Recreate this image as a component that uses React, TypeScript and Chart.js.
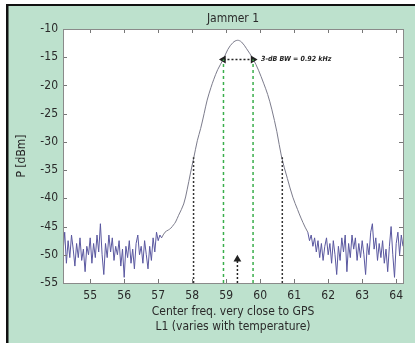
import React, { useEffect, useRef } from 'react';
import { Chart, registerables } from 'chart.js';

Chart.register(...registerables);

const FONT = "'DejaVu Sans Condensed', 'Liberation Sans Narrow', 'DejaVu Sans', sans-serif";

const chartTitle = 'Jammer 1';
const yTitle = 'P [dBm]';
const xTitle = ['Center freq. very close to GPS', 'L1 (varies with temperature)'];
const xTicks = [55, 56, 57, 58, 59, 60, 61, 62, 63, 64];
const yTicks = [-55, -50, -45, -40, -35, -30, -25, -20, -15, -10];

const noiseStep = 0.05;
const leftNoiseStart = 54.2;
const leftNoise = [
  -49.5, -46.0, -51.5, -47.5, -50.5, -46.5, -49.0, -52.0, -48.0, -50.5,
  -47.0, -51.0, -49.0, -53.0, -48.5, -50.0, -47.0, -51.5, -48.0, -50.5,
  -46.5, -49.5, -44.5, -50.0, -53.5, -48.0, -50.5, -46.5, -49.5, -47.0,
  -51.0, -48.5, -50.0, -47.5, -52.0, -49.0, -54.0, -48.5, -50.5, -47.5,
  -51.5, -49.0, -52.5, -48.0, -46.5, -50.0, -48.5, -51.5, -47.5, -50.0,
  -52.5, -48.5, -51.0, -47.0, -49.5, -46.0, -47.5, -46.5, -47.0,
];
const lobeFreqs = [
  57.1, 57.2, 57.3, 57.37, 57.45, 57.51, 57.6, 57.75, 57.85, 57.95, 58.04, 58.15,
  58.25, 58.35, 58.44, 58.55, 58.63, 58.75, 58.92, 59.05, 59.2, 59.33, 59.45, 59.6,
  59.79, 59.95, 60.1, 60.22, 60.34, 60.49, 60.63, 60.8, 60.96, 61.1, 61.2, 61.32, 61.4,
];
const lobePower = [
  -47.0, -46.0, -45.6, -45.3, -44.7, -44.2, -43.0, -41.0, -38.5, -35.5, -33.0, -29.8,
  -27.6, -25.0, -22.6, -20.4, -19.0, -17.2, -15.3, -13.6, -12.4, -12.0, -12.3, -13.5,
  -15.3, -17.3, -19.6, -21.6, -24.2, -28.2, -32.7, -36.5, -39.8, -42.0, -43.5, -45.1, -46.0,
];
const rightNoiseStart = 61.4;
const rightNoise = [
  -46.0, -47.5, -46.5, -48.5, -47.0, -49.5, -47.5, -50.5, -48.0, -51.0,
  -48.5, -47.0, -50.0, -48.0, -51.5, -47.5, -50.0, -53.5, -48.5, -51.0,
  -47.0, -49.5, -46.5, -53.0, -48.0, -50.5, -46.5, -49.0, -47.0, -51.0,
  -48.0, -50.5, -47.5, -50.0, -53.5, -48.0, -50.0, -46.0, -44.5, -49.0,
  -47.0, -51.0, -48.0, -50.5, -47.5, -51.5, -49.0, -53.0, -48.5, -45.0,
  -50.0, -54.0, -48.0, -46.0, -50.0, -46.5, -48.5,
];

const bwEdges = [58.92, 59.79];
const bwLevel = -15.4;
const bwLabel = '3-dB BW = 0.92 kHz';
const nullEdges = [58.04, 60.65];
const nullLevel = -32.7;
const centerFreq = 59.33;
const centerArrowTop = -50.8;
const axisMin = -55;

const BG_GREEN = '#bde1cd';
const NOISE_COLOR = '#5a58a0';
const LOBE_COLOR = '#7c7c8c';
const GREEN_DASH = '#3aae4c';

function noisePoints(start: number, vals: number[]) {
  return vals.map((v, i) => ({ x: +(start + i * noiseStep).toFixed(3), y: v }));
}

const framePlugin = {
  id: 'frame',
  beforeDraw(chart: any) {
    const { ctx, width, height, chartArea } = chart;
    ctx.save();
    ctx.fillStyle = '#ffffff';
    ctx.fillRect(0, 0, width, height);
    ctx.fillStyle = BG_GREEN;
    ctx.fillRect(7, 5, width - 7, height - 5);
    ctx.fillStyle = '#111';
    ctx.fillRect(6, 4, width - 6, 2);
    ctx.fillRect(6, 4, 2.5, height - 4);
    ctx.fillStyle = '#ffffff';
    ctx.fillRect(chartArea.left, chartArea.top, chartArea.right - chartArea.left, chartArea.bottom - chartArea.top);
    ctx.fillStyle = '#2a2a2a';
    ctx.font = '12px ' + FONT;
    ctx.textAlign = 'center';
    ctx.textBaseline = 'middle';
    ctx.fillText(chartTitle, (chartArea.left + chartArea.right) / 2, 19);
    ctx.restore();
  },
  afterDraw(chart: any) {
    const { ctx, chartArea, scales } = chart;
    const { left, right, top, bottom } = chartArea;
    ctx.save();
    ctx.strokeStyle = '#777';
    ctx.lineWidth = 1;
    ctx.beginPath();
    for (const t of xTicks) {
      const px = Math.round(scales.x.getPixelForValue(t)) + 0.5;
      ctx.moveTo(px, bottom);
      ctx.lineTo(px, bottom - 4);
      ctx.moveTo(px, top);
      ctx.lineTo(px, top + 4);
    }
    for (const t of yTicks) {
      const py = Math.round(scales.y.getPixelForValue(t)) + 0.5;
      ctx.moveTo(left, py);
      ctx.lineTo(left + 4, py);
      ctx.moveTo(right, py);
      ctx.lineTo(right - 4, py);
    }
    ctx.stroke();
    ctx.strokeStyle = '#8a8a8a';
    ctx.strokeRect(Math.round(left) + 0.5, Math.round(top) + 0.5, Math.round(right - left), Math.round(bottom - top));
    ctx.fillStyle = '#222';
    ctx.font = 'italic bold 7px ' + FONT;
    ctx.textBaseline = 'middle';
    ctx.textAlign = 'left';
    ctx.fillText(bwLabel, scales.x.getPixelForValue(bwEdges[1]) + 8, scales.y.getPixelForValue(bwLevel));
    ctx.restore();
  },
};

export default function App() {
  const ref = useRef<HTMLCanvasElement | null>(null);
  useEffect(() => {
    if (!ref.current) return;
    const lobe = lobeFreqs.map((f, i) => ({ x: f, y: lobePower[i] }));
    const line = (data: any[], color: string, dash: number[], width = 1, tension = 0) => ({
      data,
      borderColor: color,
      backgroundColor: color,
      borderWidth: width,
      borderDash: dash,
      pointRadius: 0,
      tension,
      fill: false,
    });
    const chart = new Chart(ref.current, {
      type: 'line',
      data: {
        datasets: [
          line([{ x: bwEdges[0], y: axisMin }, { x: bwEdges[0], y: bwLevel }], GREEN_DASH, [3, 3], 1.5),
          line([{ x: bwEdges[1], y: axisMin }, { x: bwEdges[1], y: bwLevel }], GREEN_DASH, [3, 3], 1.5),
          line([{ x: nullEdges[0], y: axisMin }, { x: nullEdges[0], y: nullLevel }], '#333', [2, 2], 1.5),
          line([{ x: nullEdges[1], y: axisMin }, { x: nullEdges[1], y: nullLevel }], '#333', [2, 2], 1.5),
          {
            ...line([{ x: bwEdges[0], y: bwLevel }, { x: bwEdges[1], y: bwLevel }], '#222', [2, 2], 1.5),
            pointStyle: 'triangle',
            pointRadius: 3,
            pointRotation: [270, 90],
          },
          {
            ...line([{ x: centerFreq, y: axisMin }, { x: centerFreq, y: centerArrowTop }], '#222', [2, 2], 1.5),
            pointStyle: 'triangle',
            pointRadius: [0, 3],
            pointRotation: 0,
          },
          line(noisePoints(leftNoiseStart, leftNoise), NOISE_COLOR, [], 1),
          line(lobe, LOBE_COLOR, [], 1, 0.35),
          line(noisePoints(rightNoiseStart, rightNoise), NOISE_COLOR, [], 1),
        ] as any,
      },
      options: {
        animation: false,
        responsive: false,
        maintainAspectRatio: false,
        parsing: false as any,
        layout: { padding: { left: 12, right: 12, top: 29, bottom: 0 } },
        plugins: {
          legend: { display: false },
          tooltip: { enabled: false },
          title: { display: false },
        },
        scales: {
          x: {
            type: 'linear',
            min: 54.2,
            max: 64.2,
            afterFit: (s: any) => { s.height = 60; },
            afterBuildTicks: (s: any) => { s.ticks = xTicks.map((v) => ({ value: v })); },
            grid: { display: false, drawTicks: false },
            border: { display: false },
            ticks: { color: '#2a2a2a', font: { family: FONT, size: 12 }, padding: 6, maxRotation: 0, autoSkip: false },
            title: {
              display: true,
              text: xTitle,
              color: '#2a2a2a',
              font: { family: FONT, size: 12, lineHeight: 1.25 },
              padding: { top: 0, bottom: 9 },
            },
          },
          y: {
            type: 'linear',
            min: -55,
            max: -10,
            afterFit: (s: any) => { s.width = 51; },
            afterBuildTicks: (s: any) => { s.ticks = yTicks.map((v) => ({ value: v })); },
            grid: { display: false, drawTicks: false },
            border: { display: false },
            ticks: { color: '#2a2a2a', font: { family: FONT, size: 12 }, padding: 5, autoSkip: false },
            title: {
              display: true,
              text: yTitle,
              color: '#2a2a2a',
              font: { family: FONT, size: 12 },
              padding: { top: 3, bottom: 0 },
            },
          },
        },
      },
      plugins: [framePlugin],
    });
    return () => chart.destroy();
  }, []);
  return (
    <div style={{ position: 'absolute', left: 0, top: 0, width: 415, height: 343 }}>
      <canvas ref={ref} width={415} height={343} style={{ width: 415, height: 343, display: 'block' }} />
    </div>
  );
}
